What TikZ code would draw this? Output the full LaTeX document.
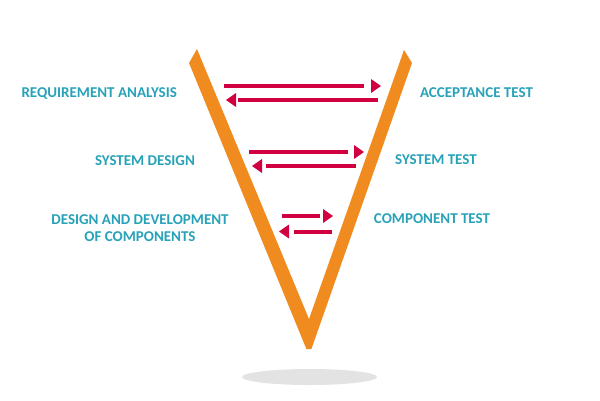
\documentclass[tikz,border=0pt]{standalone}
\usepackage{fontspec}
\setmainfont{Carlito}
\definecolor{vorange}{HTML}{F08C1F}
\definecolor{arrowred}{HTML}{D10040}
\definecolor{labelteal}{HTML}{27A2B8}
\definecolor{shadowgrey}{HTML}{E3E3E3}
\begin{document}
\begin{tikzpicture}[x=1pt,y=-1pt,
  lbl/.style={anchor=base, inner sep=0pt, text=labelteal, font=\fontsize{15}{17.7}\selectfont\bfseries, align=center},
  bar/.style={draw=arrowred, line width=4pt},
  rhead/.pic={\fill[arrowred] (-10,-7) -- (0,0) -- (-10,7) -- cycle;},
  lhead/.pic={\fill[arrowred] (10,-7) -- (0,0) -- (10,7) -- cycle;}]
\useasboundingbox (0,0) rectangle (600,400);
% shadow
\fill[shadowgrey] (309.5,377) ellipse [x radius=67.5pt, y radius=8pt];
% V shape
\fill[vorange] (189,63) -- (197,49) -- (309,319) -- (404,50) -- (412,63) -- (311.4,349) -- (306.4,349) -- cycle;
% arrows
\coordinate (a1s) at (224,86); \coordinate (a1e) at (364,86); \coordinate (a1t) at (381,86);
\draw[bar] (a1s) -- (a1e); \pic at (a1t) {rhead};
\coordinate (a2t) at (226,100); \coordinate (a2s) at (238,100); \coordinate (a2e) at (378,100);
\draw[bar] (a2s) -- (a2e); \pic at (a2t) {lhead};
\coordinate (a3s) at (249,152); \coordinate (a3e) at (348,152); \coordinate (a3t) at (364,152);
\draw[bar] (a3s) -- (a3e); \pic at (a3t) {rhead};
\coordinate (a4t) at (252,166); \coordinate (a4s) at (266,166); \coordinate (a4e) at (356,166);
\draw[bar] (a4s) -- (a4e); \pic at (a4t) {lhead};
\coordinate (a5s) at (282,216); \coordinate (a5e) at (320,216); \coordinate (a5t) at (333,216);
\draw[bar] (a5s) -- (a5e); \pic at (a5t) {rhead};
\coordinate (a6t) at (279,231.5); \coordinate (a6s) at (294,231.5); \coordinate (a6e) at (332,231.5);
\draw[bar] (a6s) -- (a6e); \pic at (a6t) {lhead};
% labels
\node[lbl] (req) at (99.2,97.3) {REQUIREMENT ANALYSIS};
\node[lbl] (sysd) at (145,165) {SYSTEM DESIGN};
\node[lbl] (comp) at (140,241.7) {DESIGN AND DEVELOPMENT\\OF COMPONENTS};
\node[lbl] (acc) at (476.5,97.7) {ACCEPTANCE TEST};
\node[lbl] (syst) at (436,164) {SYSTEM TEST};
\node[lbl] (compt) at (432,223) {COMPONENT TEST};
\end{tikzpicture}
\end{document}
